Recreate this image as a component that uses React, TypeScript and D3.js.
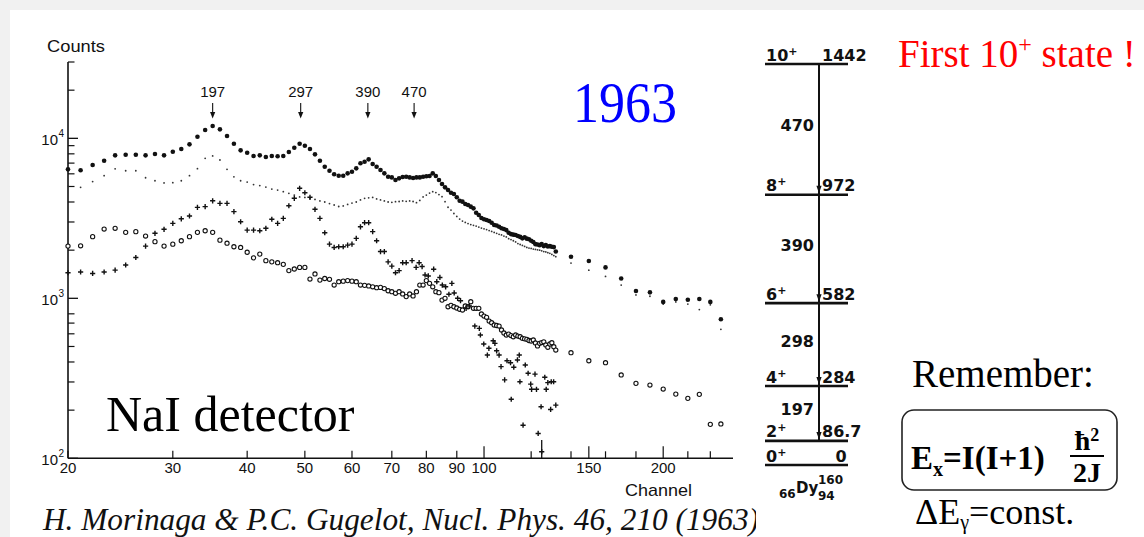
import React from 'react';
import * as d3 from 'd3';

// ---------- Spectrum data: [channel, counts] ----------
const seriesFilled: [number, number][] = [
  [20,6400],[21,6310],[22,6810],[23,7240],[24,7830],[25,7900],[26,7900],[27,7830],[28,7980],[29,7830],
  [30,8250],[31,8570],[32,9170],[33,10230],[34,11270],[35,11940],[36,11380],[37,10340],[38,9250],[39,8410],
  [40,8130],[41,7750],[42,7830],[43,7640],[44,7750],[45,7720],[46,7750],[47,8210],[48,8740],[49,9250],
  [50,8990],[51,8570],[52,7940],[53,7240],[54,6640],[55,6270],[56,5960],[57,5840],[58,5840],[59,6040],
  [60,6180],[61,6490],[62,6980],[63,7140],[64,7390],[65,6910],[66,6640],[67,6340],[68,6040],[69,5750],
  [70,5700],[71,5490],[72,5620],[73,5730],[74,5750],[75,5700],[76,5650],[77,5700],[78,5700],[79,5750],
  [80,5790],[81,5810],[82,6040],[83,5810],[84,5490],[85,5180],[86,4940],[87,4750],[88,4570],[89,4490],
  [90,4280],[91,4070],[92,4020],[93,3890],[94,3830],[95,3740],[96,3650],[97,3430],[98,3320],[99,3180],
  [100,3120],[101,3090],[102,3040],[103,2970],[104,2870],[105,2850],[106,2800],[107,2740],[108,2710],[109,2670],
  [110,2570],[111,2520],[112,2500],[113,2490],[114,2450],[115,2420],[116,2370],[117,2410],[118,2360],[119,2340],
  [120,2290],[121,2250],[122,2180],[123,2170],[124,2150],[125,2180],[126,2120],[127,2150],[128,2110],[129,2120],
  [130,2100],[131,2090],[132,1960],
  [140,1820],[150,1710],[160,1560],[170,1330],[180,1110],[190,1090],[200,950],[210,990],[220,980],[230,990],
  [240,950],[250,740],
];

const seriesDotted: [number, number][] = [
  [20,5030],[21,4940],[22,5370],[23,5840],[24,6450],[25,6270],[26,6270],[27,5670],[28,5430],[29,5260],
  [30,5280],[31,5430],[32,5840],[33,6460],[34,7500],[35,7760],[36,7320],[37,6400],[38,5750],[39,5430],
  [40,5330],[41,5140],[42,5070],[43,4960],[44,4820],[45,4750],[46,4640],[47,4530],[48,4420],[49,4300],
  [50,4270],[51,4210],[52,4150],[53,4060],[54,4000],[55,3910],[56,3830],[57,3750],[58,3780],[59,3860],
  [60,3940],[61,4000],[62,4120],[63,4220],[64,4250],[65,4270],[66,4180],[67,4120],[68,4060],[69,4000],
  [70,3980],[71,4020],[72,4030],[73,4060],[74,4040],[75,4060],[76,4030],[77,3960],[78,4090],[79,4300],
  [80,4420],[81,4550],[82,4640],[83,4580],[84,4450],[85,4320],[86,4020],[87,3710],[88,3560],[89,3390],
  [90,3250],[91,3130],[92,3040],[93,2980],[94,2930],[95,2890],[96,2860],[97,2830],[98,2790],[99,2750],
  [100,2720],[101,2690],[102,2650],[103,2620],[104,2580],[105,2550],[106,2510],[107,2490],[108,2450],[109,2420],
  [110,2360],[111,2330],[112,2290],[113,2250],[114,2200],[115,2170],[116,2140],[117,2110],[118,2080],[119,2060],
  [120,2050],[121,2030],[122,2020],[123,2010],[124,2000],[125,1980],[126,1960],[127,1950],[128,1930],[129,1910],
  [130,1880],[131,1850],[132,1820],
  [140,1660],[150,1500],[160,1370],[170,1210],[180,1050],[190,1030],[200,920],[210,950],[220,920],[230,850],
  [240,910],[250,640],
];

const seriesPlus: [number, number][] = [
  [20,1445],[21,1460],[22,1430],[23,1460],[24,1500],[25,1615],[26,1800],[27,2120],[28,2550],[29,2700],
  [30,2940],[31,3140],[32,3270],[33,3700],[34,3740],[35,4070],[36,3920],[37,3920],[38,3480],[39,3010],
  [40,2670],[41,2670],[42,2645],[43,2740],[44,3120],[45,2940],[46,3160],[47,3790],[48,4220],[49,4870],
  [50,4570],[51,4280],[52,3600],[53,3160],[54,2570],[55,2180],[56,2080],[57,2100],[58,2100],[59,2150],
  [60,2180],[61,2370],[62,2800],[63,2970],[64,2970],[65,2610],[66,2290],[67,1960],[68,1960],[69,1690],
  [70,1590],[71,1445],[72,1490],[73,1670],[74,1670],[75.7,1720],[76.9,1560],[77.8,1670],[78.7,1580],[79.6,1400],
  [80.6,1380],[82.3,1520],[83.3,1270],[84.3,1350],[85.1,1210],[86.2,1180],[87.3,1060],[88.3,1240],[89.1,1080],[90.3,1000],
  [91.3,966],[93.3,866],[94.5,895],[96.5,671],[98.2,649],[98.6,590],[99.9,518],[101.3,442],[101.9,487],[103.6,543],
  [104.3,523],[105,470],[106,442],[106.8,374],[108.3,309],[109.3,407],[110.8,396],[111.1,234],[112.2,371],[113.8,412],
  [114.6,442],[114.9,301],[116.3,161],[117.3,383],[118.6,340],[119.8,291],[120.2,270],[121.8,336],[122.5,270],[123.3,143],
  [124.7,210],[125,110],[126.5,321],[127.2,270],[128,297],[129.4,202],[129.7,301],[130.9,301],[132,215],
];

const seriesOpen: [number, number][] = [
  [20,2120],[21,2130],[22,2430],[23,2710],[24,2740],[25,2585],[26,2610],[27,2450],[28,2260],[29,2120],
  [30,2180],[31,2290],[32,2430],[33,2585],[34,2645],[35,2585],[36,2310],[37,2210],[38,2100],[39,2080],
  [40,1940],[41,1790],[42,1890],[43,1720],[44,1690],[45,1670],[46,1630],[47,1490],[48,1525],[49,1560],
  [50,1560],[51,1320],[52,1420],[53,1300],[54,1330],[55,1315],[56,1210],[57,1270],[58,1280],[59,1290],
  [60,1280],[61,1270],[62,1210],[63,1205],[64,1195],[65,1180],[66,1165],[67,1170],[68,1150],[69,1115],
  [70,1100],[71,1075],[72,1100],[73,1065],[74,1025],[75,1065],[76,1035],[77,1100],[78,1210],[79,1210],
  [80,1290],[81,1240],[82,1180],[83,1100],[84,1085],[85,975],[86,1000],[87,886],[88,904],[89,886],
  [90,870],[91,854],[92,845],[93,895],[94,886],[95,952],[96,866],[97,866],[98,866],[99,798],
  [100,775],[101,761],[102,721],[103,704],[104,681],[105,676],[106,671],[107,634],[108,607],[109,590],
  [110,598],[111,585],[112,575],[113,590],[114,581],[115,575],[116,562],[117,558],[118,554],[119,545],
  [120,541],[121,549],[122,526],[123,504],[124,523],[125,529],[126,535],[127,511],[128,494],[129,518],
  [130,528],[131,498],[132,475],
  [140,457],[150,407],[160,396],[170,332],[180,294],[190,287],[200,271],[210,252],[220,237],[230,251],
  [240,163],[250,164],
];

// ---------- Axes ----------
const xTickLabels = [20, 30, 40, 50, 60, 70, 80, 90, 100, 150, 200];
const xLongTicks = [100, 150, 200];
const xMinorTicks = [120, 140, 160, 180, 220, 240];
const yMajorTicks = [100, 1000, 10000];
const yMajorExponents = ['2', '3', '4'];
const yMinorTicks = [200, 300, 400, 500, 600, 700, 800, 2000, 3000, 4000, 5000, 6000, 7000, 8000, 9000, 20000, 30000];

// peak annotations
const peakLabels = ['197', '297', '390', '470'];
const peakChannels = [35, 49.2, 63.8, 76.3];
const limitChannel = 125;
const limitTopCounts = 130;

// ---------- Level scheme (160Dy) ----------
const levelSpins = ['10', '8', '6', '4', '2', '0'];
const levelEnergies = [1442, 972, 582, 284, 86.7, 0];
const levelEnergyLabels = ['1442', '972', '582', '284', '86.7', '0'];
const transitionLabels = ['470', '390', '298', '197'];

const SANS = "'Liberation Sans', Arial, Helvetica, sans-serif";
const SERIF = "'Liberation Serif', 'Times New Roman', serif";
const HAND = "'DejaVu Sans', sans-serif";

export default function App() {
  const W = 1144, H = 537;
  const x = d3.scaleLog().domain([20, 262]).range([68, 733]);
  const y = d3.scaleLog().domain([100, 30000]).range([458.3, 62]);
  const e = d3.scaleLinear().domain([0, 1442]).range([465, 64]);
  const x0 = x.range()[0], x1 = x.range()[1];
  const yb = y(100), yt = y(30000);
  const ink = '#111';

  const plusPath = (cx: number, cy: number, s = 2.6) =>
    `M${cx - s},${cy}H${cx + s}M${cx},${cy - s}V${cy + s}`;

  const levelX0 = 765, levelX1 = 848, spineX = 819;

  return (
    <svg width={W} height={H} style={{ position: 'absolute', left: 0, top: 0, background: '#fff' }}>
      <defs>
        <clipPath id="citeClip"><rect x={0} y={495} width={756} height={42} /></clipPath>
      </defs>
      <rect x={0} y={0} width={W} height={H} fill="#f1f1f1" />
      <rect x={10} y={10} width={W - 10} height={H - 10} fill="#fff" />

      {/* axes */}
      <line x1={x0} x2={x0} y1={yt} y2={yb} stroke={ink} strokeWidth={1.6} />
      <line x1={x0} x2={x1} y1={yb} y2={yb} stroke={ink} strokeWidth={1.6} />
      {yMajorTicks.map((v, i) => (
        <g key={'ym' + v}>
          <line x1={x0} x2={x0 + 10} y1={y(v)} y2={y(v)} stroke={ink} strokeWidth={1.3} />
          <text x={58} y={y(v) + 6.5} fontFamily={SANS} fontSize={15} textAnchor="end" fill={ink}>10</text>
          <text x={58.5} y={y(v) - 1} fontFamily={SANS} fontSize={10} fill={ink}>{yMajorExponents[i]}</text>
        </g>
      ))}
      {yMinorTicks.map(v => (
        <line key={'yn' + v} x1={x0} x2={x0 + 6.5} y1={y(v)} y2={y(v)} stroke={ink} strokeWidth={1.2} />
      ))}
      {xTickLabels.map(v => (
        <g key={'xt' + v}>
          <line x1={x(v)} x2={x(v)} y1={yb} y2={yb - (xLongTicks.includes(v) ? 12 : 7.5)} stroke={ink} strokeWidth={1.2} />
          <text x={x(v)} y={yb + 15} fontFamily={SANS} fontSize={15} textAnchor="middle" fill={ink}>{v}</text>
        </g>
      ))}
      {xMinorTicks.map(v => (
        <line key={'xn' + v} x1={x(v)} x2={x(v)} y1={yb} y2={yb - 7} stroke={ink} strokeWidth={1.2} />
      ))}
      <line x1={x(limitChannel)} x2={x(limitChannel)} y1={yb} y2={y(limitTopCounts)} stroke={ink} strokeWidth={1.3} />

      <text x={47} y={52} fontFamily={SANS} fontSize={17} fill={ink} textLength={58} lengthAdjust="spacingAndGlyphs">Counts</text>
      <text x={625} y={496} fontFamily={SANS} fontSize={17} fill={ink} textLength={67} lengthAdjust="spacingAndGlyphs">Channel</text>

      {/* peak arrows */}
      {peakChannels.map((c, i) => (
        <g key={'pk' + i}>
          <text x={x(c)} y={97} fontFamily={SANS} fontSize={15} textAnchor="middle" fill={ink}>{peakLabels[i]}</text>
          <line x1={x(c)} x2={x(c)} y1={103} y2={114} stroke={ink} strokeWidth={1.1} />
          <path d={`M${x(c) - 2.6},${112} L${x(c) + 2.6},${112} L${x(c)},${118.5} Z`} fill={ink} />
        </g>
      ))}

      {/* series */}
      <g>
        {seriesDotted.map((d, i) => (
          <circle key={'b' + i} cx={x(d[0])} cy={y(d[1])} r={0.9} fill="#333" />
        ))}
        {seriesFilled.map((d, i) => (
          <circle key={'a' + i} cx={x(d[0])} cy={y(d[1])} r={2.3} fill={ink} />
        ))}
        {seriesOpen.map((d, i) => (
          <circle key={'d' + i} cx={x(d[0])} cy={y(d[1])} r={2.1} fill="#fff" stroke={ink} strokeWidth={1.1} />
        ))}
        {seriesPlus.map((d, i) => (
          <path key={'c' + i} d={plusPath(x(d[0]), y(d[1]))} stroke={ink} strokeWidth={1.4} fill="none" />
        ))}
      </g>

      {/* big texts */}
      <text x={573} y={121.5} fontFamily={SERIF} fontSize={58} fill="#0000ff" textLength={104} lengthAdjust="spacingAndGlyphs">1963</text>
      <text x={106} y={430.5} fontFamily={SERIF} fontSize={50} fill="#000">NaI detector</text>
      <text x={898} y={67} fontFamily={SERIF} fontSize={39} fill="#ff0000">
        First 10<tspan dy={-15} fontSize={24}>+</tspan><tspan dy={15}> state !</tspan>
      </text>

      <g clipPath="url(#citeClip)">
        <text x={43} y={530} fontFamily={SERIF} fontStyle="italic" fontSize={31} fill="#111" textLength={716} lengthAdjust="spacingAndGlyphs">
          H. Morinaga &amp; P.C. Gugelot, Nucl. Phys. 46, 210 (1963)
        </text>
      </g>

      {/* level scheme */}
      <line x1={spineX} x2={spineX} y1={e(levelEnergies[0])} y2={e(levelEnergies[4])} stroke={ink} strokeWidth={2} />
      {levelEnergies.map((en, i) => (
        <g key={'lv' + i}>
          <line x1={levelX0} x2={levelX1} y1={e(en)} y2={e(en)} stroke={ink} strokeWidth={2.6} />
          <text x={levelX0 + 1} y={e(en) - 3.5} fontFamily={HAND} fontWeight="bold" fontSize={16} fill={ink}>
            {levelSpins[i]}<tspan dy={-6} fontSize={11}>+</tspan>
          </text>
          <text x={levelEnergyLabels[i] === '0' ? 841 : 822} y={e(en) - 3.5} fontFamily={HAND} fontWeight="bold" fontSize={16}
            textAnchor={levelEnergyLabels[i] === '0' ? 'middle' : 'start'} fill={ink}>
            {levelEnergyLabels[i]}
          </text>
          {i > 0 && i < 5 && (
            <path d={`M${spineX - 2.6},${e(en) - 9} L${spineX + 2.6},${e(en) - 9} L${spineX},${e(en) - 1.5} Z`} fill={ink} />
          )}
        </g>
      ))}
      {transitionLabels.map((t, i) => (
        <text key={'tr' + i} x={814} y={(e(levelEnergies[i]) + e(levelEnergies[i + 1])) / 2 + 2}
          fontFamily={HAND} fontWeight="bold" fontSize={16} textAnchor="end" fill={ink}>{t}</text>
      ))}
      <text x={779} y={498} fontFamily={HAND} fontWeight="bold" fontSize={12} fill={ink}>66</text>
      <text x={796} y={493} fontFamily={HAND} fontWeight="bold" fontSize={15} fill={ink}>Dy</text>
      <text x={818} y={484} fontFamily={HAND} fontWeight="bold" fontSize={12} fill={ink}>160</text>
      <text x={818} y={500} fontFamily={HAND} fontWeight="bold" fontSize={12} fill={ink}>94</text>

      {/* right-hand notes */}
      <text x={912} y={387} fontFamily={SERIF} fontSize={39} fill="#000">Remember:</text>
      <rect x={902} y={410} width={215} height={80} rx={12} ry={12} fill="none" stroke="#222" strokeWidth={1.6} />
      <text x={911} y={469} fontFamily={SERIF} fontWeight="bold" fontSize={33} fill="#000">
        E<tspan dy={7} fontSize={20}>x</tspan><tspan dy={-7}>=I(I+1)</tspan>
      </text>
      <text x={1087} y={450} fontFamily={SERIF} fontWeight="bold" fontSize={28} textAnchor="middle" fill="#000">
        ħ<tspan dy={-9} fontSize={18}>2</tspan>
      </text>
      <line x1={1070} x2={1104} y1={456} y2={456} stroke="#000" strokeWidth={2} />
      <text x={1087} y={482} fontFamily={SERIF} fontWeight="bold" fontSize={28} textAnchor="middle" fill="#000">2J</text>
      <text x={915} y={524} fontFamily={SERIF} fontSize={36} fill="#000">
        ΔE<tspan dy={5} fontSize={20}>γ</tspan><tspan dy={-5}>=const.</tspan>
      </text>
    </svg>
  );
}
